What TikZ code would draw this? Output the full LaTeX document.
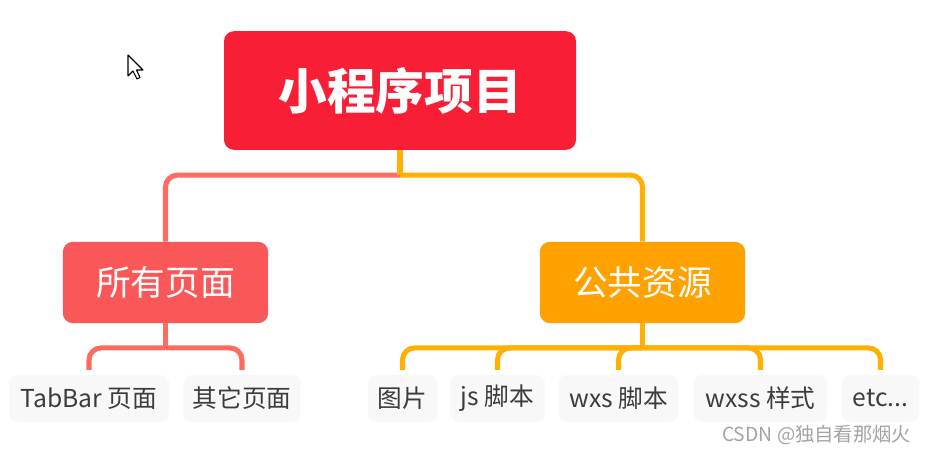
\documentclass[tikz,border=0pt]{standalone}
\usepackage{fontspec}
\setmainfont{Noto Sans CJK SC}
\usetikzlibrary{calc}
\definecolor{rootred}{HTML}{F71E35}
\definecolor{pagered}{HTML}{FA5858}
\definecolor{puborange}{HTML}{FFA100}
\definecolor{linered}{HTML}{FF6B5E}
\definecolor{lineyel}{HTML}{FFB000}
\definecolor{leaffill}{HTML}{F8F8F8}
\definecolor{leaftext}{HTML}{3C3C3C}
\definecolor{wmgray}{HTML}{A3A3A3}
\begin{document}
\begin{tikzpicture}[x=0.75pt,y=-0.75pt,
  rootbox/.style={fill=rootred, text=white, rounded corners=7.5pt,
    minimum width=264pt, minimum height=89pt, inner sep=0pt,
    font=\fontsize{36.5pt}{40pt}\selectfont\bfseries},
  midbox/.style={text=white, rounded corners=7.5pt,
    minimum width=154pt, minimum height=61pt, inner sep=0pt,
    font=\fontsize{26pt}{28pt}\selectfont},
  leafbox/.style={fill=leaffill, text=leaftext, rounded corners=6pt,
    minimum height=35pt, inner xsep=7pt, inner ysep=0pt,
    font=\fontsize{18.5pt}{21pt}\selectfont},
  conred/.style={draw=linered, line width=3.8pt, rounded corners=9pt},
  conyel/.style={draw=lineyel, line width=3.8pt, rounded corners=9pt}
]
\useasboundingbox (0,0) rectangle (931,453);

% nodes
\node[rootbox] (root) at (400,90.5) {小程序项目};
\node[midbox, fill=pagered] (pages) at (165.5,282.5) {所有页面};
\node[midbox, fill=puborange] (pub) at (642.5,282.5) {公共资源};

\node[leafbox, minimum width=120pt] (tab) at (89,398.5) {TabBar 页面};
\node[leafbox, minimum width=88pt] (other) at (242,398.5) {其它页面};
\node[leafbox, minimum width=52pt] (pic) at (402.5,398.5) {图片};
\node[leafbox, minimum width=71pt] (js) at (497.5,398.5) {js 脚本};
\node[leafbox, minimum width=90pt] (wxs) at (618.5,398.5) {wxs 脚本};
\node[leafbox, minimum width=100pt] (wxss) at (760.5,398.5) {wxss 样式};
\node[leafbox, minimum width=58pt] (etc) at (880.5,398.5) {etc...};

% junction points
\coordinate (jr) at ($(root.south)+(0,25)$);
\coordinate (jp) at ($(pages.south)+(0,24.5)$);
\coordinate (ju) at ($(pub.south)+(0,24.5)$);

% connectors from root
\draw[conred] (jr) -| (pages.north);
\draw[conyel] (jr) -| (pub.north);
\draw[conyel] (root.south) -- (jr);

% connectors from pages
\draw[conred] (pages.south) -- (jp);
\draw[conred] (jp) -| ($(tab.north)+(0,-5)$);
\draw[conred] (jp) -| ($(other.north)+(0,-5)$);

% connectors from pub
\draw[conyel] (pub.south) -- (ju);
\draw[conyel] (ju) -| ($(pic.north)+(0,-5)$);
\draw[conyel] (ju) -| ($(js.north)+(0,-5)$);
\draw[conyel] (ju) -| ($(wxs.north)+(0,-5)$);
\draw[conyel] (ju) -| ($(wxss.north)+(0,-5)$);
\draw[conyel] (ju) -| ($(etc.north)+(0,-5)$);

% mouse cursor
\draw[line width=0.8pt, fill=white, line join=round]
  (128,55) -- (128,76) -- (133,71) -- (137,79) -- (140,77.5) -- (136.5,70) -- (143,70) -- cycle;

% watermark
\node[text=wmgray, font=\fontsize{14.5pt}{16pt}\selectfont, anchor=east] (wm) at (916,435) {CSDN @独自看那烟火};
\end{tikzpicture}
\end{document}
